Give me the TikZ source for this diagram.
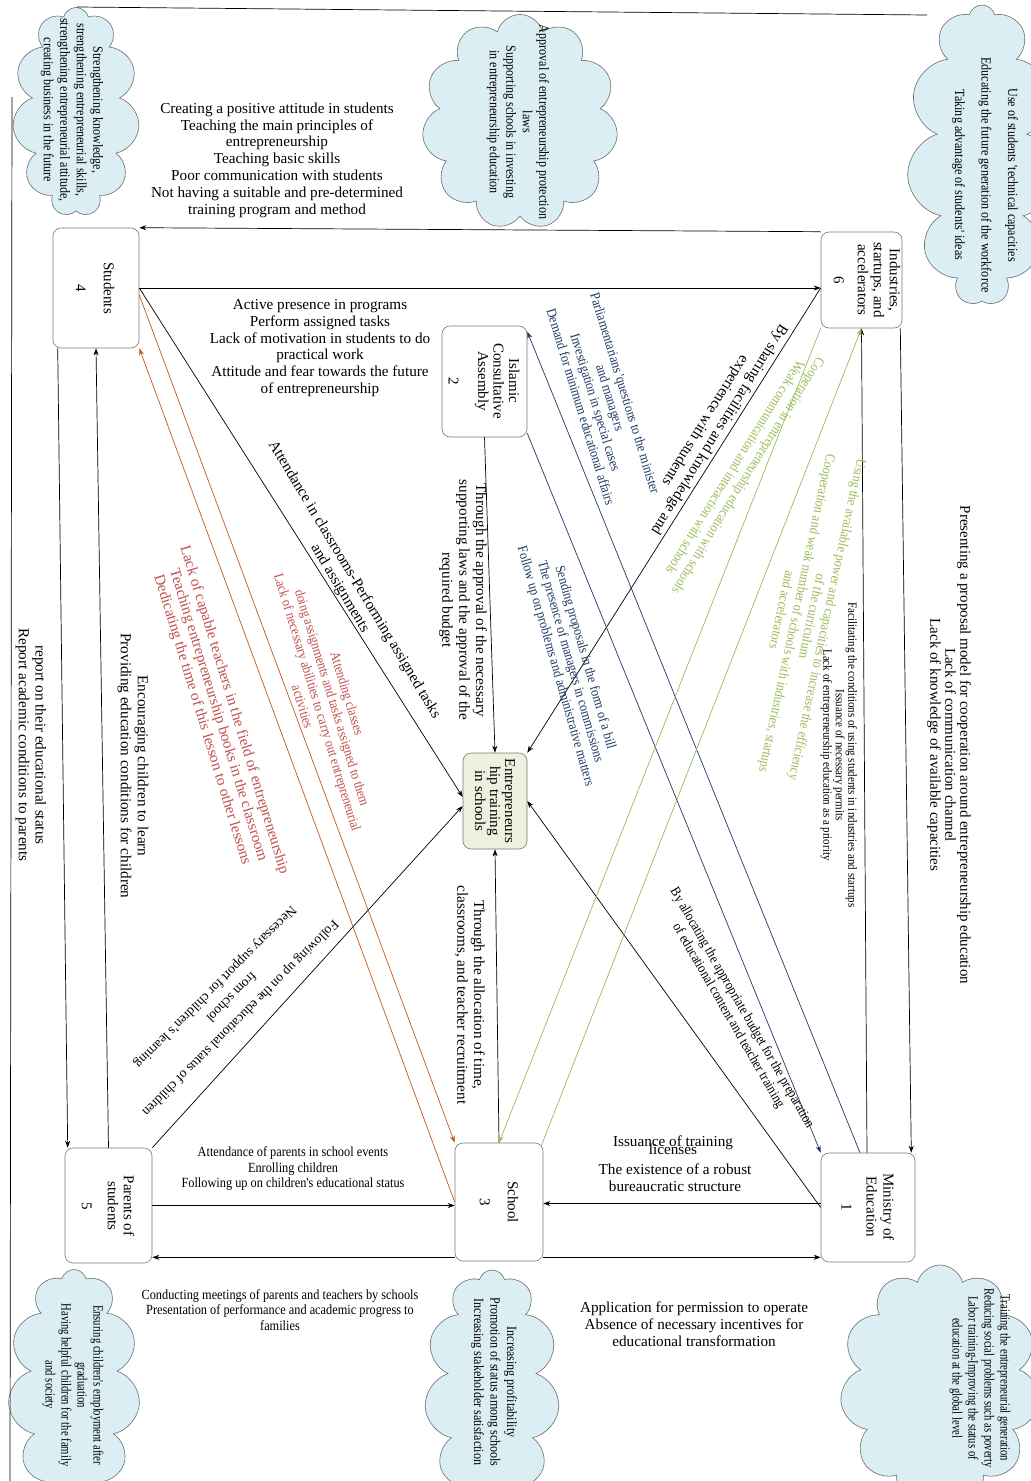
\documentclass[tikz,border=0pt]{standalone}
\usepackage{fontspec}
\setmainfont{Liberation Serif}
\newfontfamily\cnd{Liberation Serif}[FakeStretch=0.88]
\newfontfamily\cldf{Liberation Serif}[FakeStretch=0.86]
\newfontfamily\cldn{Liberation Serif}[FakeStretch=0.76]
\usetikzlibrary{shapes.symbols,arrows.meta}
\definecolor{cloudfill}{RGB}{218,238,243}
\definecolor{cloudline}{RGB}{110,110,110}
\definecolor{entfill}{RGB}{235,241,222}
\definecolor{bluel}{RGB}{31,56,100}
\definecolor{greenl}{RGB}{155,187,89}
\definecolor{orangel}{RGB}{197,90,17}
\definecolor{redt}{RGB}{192,80,77}
\definecolor{boxline}{RGB}{120,120,120}
\begin{document}
\begin{tikzpicture}[x=1pt,y=-1pt,
  box/.style={draw=boxline, rounded corners=8pt, fill=white, line width=0.6pt, inner sep=0pt},
  cl/.style={cloud, cloud puffs=11, cloud ignores aspect, draw=cloudline, fill=cloudfill, line width=0.6pt, inner sep=0pt},
  con/.style={line width=0.7pt, -{Stealth[length=7pt,width=5pt]}},
  plain/.style={line width=0.7pt},
  big/.style={font=\fontsize{15.2}{16.8}\selectfont, align=center, inner sep=0pt},
  mid/.style={font=\cnd\fontsize{14}{15.5}\selectfont, align=center, inner sep=0pt},
  small/.style={font=\cnd\fontsize{12.5}{12.5}\selectfont, align=center, inner sep=0pt},
  diag/.style={font=\fontsize{13.5}{14}\selectfont, align=center, inner sep=0pt, rotate=-135},
  cltext/.style={font=\cldf\fontsize{14}{16.5}\selectfont, align=center, inner sep=0pt, rotate=-90},
  cltextn/.style={font=\cldn\fontsize{14}{16}\selectfont, align=center, inner sep=0pt, rotate=-90}
]
\useasboundingbox (0,0) rectangle (1031,1481);
\fill[white] (0,0) rectangle (1031,1481);

% clouds
\node[cl, minimum width=127, minimum height=209] (c4) at (76,112) {};
\node[cl, minimum width=196, minimum height=215] (c2) at (520,122) {};
\node[cl, minimum width=150, minimum height=300] (c6) at (982,155) {};
\node[cl, minimum width=132, minimum height=235] (c5) at (74,1387) {};
\node[cl, minimum width=135, minimum height=240] (c3) at (492,1390) {};
\node[cl, minimum width=200, minimum height=240] (c1) at (940,1385) {};

\node[cltext] (t4) at (72,110) {Strengthening knowledge,\\strengthening entrepreneurial skills,\\strengthening entrepreneurial attitude,\\creating business in the future};
\node[cltext] (t2) at (518,122) {Approval of entrepreneurship protection\\laws\\Supporting schools in investing\\in entrepreneurship education};
\node[cltext] (t6) at (985,175) {Use of students 'technical capacities\\[10pt]Educating the future generation of the workforce\\[10pt]Taking advantage of students' ideas};
\node[cltextn] (t5) at (73,1385) {Ensuring children's employment after\\graduation\\Having helpful children for the family\\and society};
\node[cltext] (t3) at (494,1382) {Increasing profitability\\Promotion of status among schools\\Increasing stakeholder satisfaction};
\node[cltextn] (t1) at (980,1378) {Training the entrepreneurial generation\\Reducing social problems such as poverty\\Labor training-Improving the status of\\education at the global level};

% frame lines
\coordinate (ftl) at (77,7);
\coordinate (ftr) at (927,15);
\coordinate (flt) at (12,97);
\coordinate (flb) at (10,1481);
\draw[plain] (ftl) -- (ftr);
\draw[plain] (flt) -- (flb);

% boxes
\node[box, minimum width=86, minimum height=120] (stu) at (96,288) {};
\node[box, minimum width=81, minimum height=96] (ind) at (861.5,280) {};
\node[box, minimum width=85, minimum height=111] (asm) at (484.5,381.5) {};
\node[box, fill=entfill, minimum width=64, minimum height=96] (ent) at (495,801) {};
\node[box, minimum width=88, minimum height=118] (sch) at (499,1202) {};
\node[box, minimum width=94, minimum height=109] (min) at (868,1207.5) {};
\node[box, minimum width=87, minimum height=115] (par) at (108.5,1205.5) {};

\node[big, rotate=-90, font=\fontsize{15}{16}\selectfont] (stut) at (95,288) {Students\\[12pt]4};
\node[big, rotate=-90, font=\fontsize{15}{16}\selectfont] (indt) at (867,280) {Industries,\\startups, and\\accelerators\\[8pt]6};
\node[big, rotate=-90, font=\fontsize{15}{15.5}\selectfont] (asmt) at (484,381) {Islamic\\Consultative\\Assembly\\[14pt]2};
\node[big, rotate=-90, font=\fontsize{15}{15}\selectfont] (entt) at (ent) {Entrepreneurs\\hip training\\in schools};
\node[big, rotate=-90, font=\fontsize{15}{16}\selectfont] (scht) at (499,1202) {School\\[12pt]3};
\node[big, rotate=-90, font=\fontsize{15}{17}\selectfont] (mint) at (868,1207) {Ministry of\\Education\\[8pt]1};
\node[big, rotate=-90, font=\fontsize{15}{16}\selectfont] (part) at (108,1206) {Parents of\\students\\[10pt]5};

% connectors (black)
\draw[con] (ind.north west) -- (stu.north east);
\draw[con] (stu.east) -- (stu.east -| ind.west);
\draw[con] ([xshift=5]stu.south west) -- ([xshift=3]par.north west);
\draw[con] (par.north) -- (stu.south);
\draw[con] (stu.east) -- ([yshift=4]ent.west);
\draw[con] (asm.south) -- (ent.north);
\draw[con] ([yshift=-8]ind.west) -- (ent.north east);
\draw[con] ([xshift=-1]min.north) -- (ind.south);
\draw[con] ([xshift=-2]ind.south east) -- ([xshift=-4]min.north east);
\draw[con] (min.west) -- (ent.east);
\draw[con] ([yshift=4]min.west) -- ([yshift=4]min.west -| sch.east);
\draw[con] ([yshift=4]sch.south east) -- ([yshift=4]sch.south east -| min.west);
\draw[con] (par.east) -- (par.east -| sch.west);
\draw[con] ([yshift=4]sch.south west) -- ([yshift=4]sch.south west -| par.east);
\draw[con] (par.north east) -- ([yshift=-5]ent.west);
\draw[con] (sch.north) -- (ent.south);
% orange
\draw[con, orangel] (sch.west) -- (stu.south east);
\draw[con, orangel] ([yshift=-7]stu.east) -- (sch.north west);
% blue
\draw[con, bluel] ([xshift=-8]min.north) -- ([yshift=-6]asm.north east);
\draw[con, bluel] ([yshift=4]asm.south east) -- (min.north west);
% green
\draw[con, greenl] (ind.south west) -- (sch.north);
\draw[con, greenl] ([xshift=-2,yshift=-3]sch.north east) -- (ind.south);

% labels
\node[big] (ltop) at (277,160) {Creating a positive attitude in students\\Teaching the main principles of\\entrepreneurship\\Teaching basic skills\\Poor communication with students\\Not having a suitable and pre-determined\\training program and method};
\node[big] (lact) at (320,348) {Active presence in programs\\Perform assigned tasks\\Lack of motivation in students to do\\practical work\\Attitude and fear towards the future\\of entrepreneurship};
\node[big, rotate=-59] (latt) at (347,584) {Attendance in classrooms-Performing assigned tasks\\and assignments};
\node[big, rotate=-73, text=redt] (llack) at (218,715) {Lack of capable teachers in the field of entrepreneurship\\Teaching entrepreneurship books in the classroom\\Dedicating the time of this lesson to other lessons};
\node[mid, rotate=-73, text=redt] (lattcl) at (325,700) {Attending classes\\doing assignments and tasks assigned to them\\Lack of necessary abilities to carry out entrepreneurial\\activities};
\node[big, rotate=-90] (lappr) at (463,600) {Through the approval of the necessary\\supporting laws and the approval of the\\required budget};
\node[mid, rotate=-73, text=bluel] (lparl) at (603,400) {Parliamentarians 'questions to the minister\\and managers\\Investigation in special cases\\Demand for minimum educational affairs};
\node[mid, rotate=-74, text=bluel] (lsend) at (570,662) {Sending proposals in the form of a bill\\The presence of managers in commissions\\Follow up on problems and administrative matters};
\node[big, rotate=-122] (lshare) at (712,425) {By sharing facilities and knowledge and\\experience with students};
\node[mid, rotate=-122, text=greenl] (lcoop) at (742,472) {Cooperation in entrepreneurship education with schools\\Weak communication and interaction with schools};
\node[mid, rotate=-102, text=greenl] (lusing) at (805,615) {Using the available power and capacities to increase the efficiency\\of the curriculum\\Cooperation and weak number of schools with industries, startups\\and accelerators};
\node[small, rotate=-90] (lfac) at (839,755) {Facilitating the conditions of using students in industries and startups\\Issuance of necessary permits\\Lack of entrepreneurship education as a priority};
\node[big, rotate=-90, font=\fontsize{15}{15}\selectfont] (lpres) at (949,745) {Presenting a proposal model for cooperation around entrepreneurship education\\Lack of communication channel\\Lack of knowledge of available capacities};
\node[mid, rotate=-60] (lalloc) at (735,1012) {By allocating the appropriate budget for the preparation\\of educational content and teacher training};
\node[big, rotate=-90] (ltime) at (470,995) {Through the allocation of time,\\classrooms, and teacher recruitment};
\node[big] (liss1) at (673,1143) {Issuance of training};
\node[big] (liss2) at (673,1149) {licenses};
\node[big] (lrob) at (675,1178) {The existence of a robust\\bureaucratic structure};
\node[big] (lappl) at (694,1324) {Application for permission to operate\\Absence of necessary incentives for\\educational transformation};
\node[mid] (lparsch) at (293,1169) {Attendance of parents in school events\\Enrolling children\\Following up on children's educational status};
\node[mid] (lmeet) at (280,1310) {Conducting meetings of parents and teachers by schools\\Presentation of performance and academic progress to\\families};
\node[diag] (lnec) at (215,987) {Necessary support for children's learning};
\node[diag] (lnec2) at (232,998) {from school};
\node[diag] (lfol) at (240,1018) {Following up on the educational status of children};
\node[big, rotate=-90] (lenc) at (133,766) {Encouraging children to learn\\Providing education conditions for children};
\node[big, rotate=-90] (lrep) at (31,745) {report on their educational status\\Report academic conditions to parents};
\end{tikzpicture}
\end{document}
